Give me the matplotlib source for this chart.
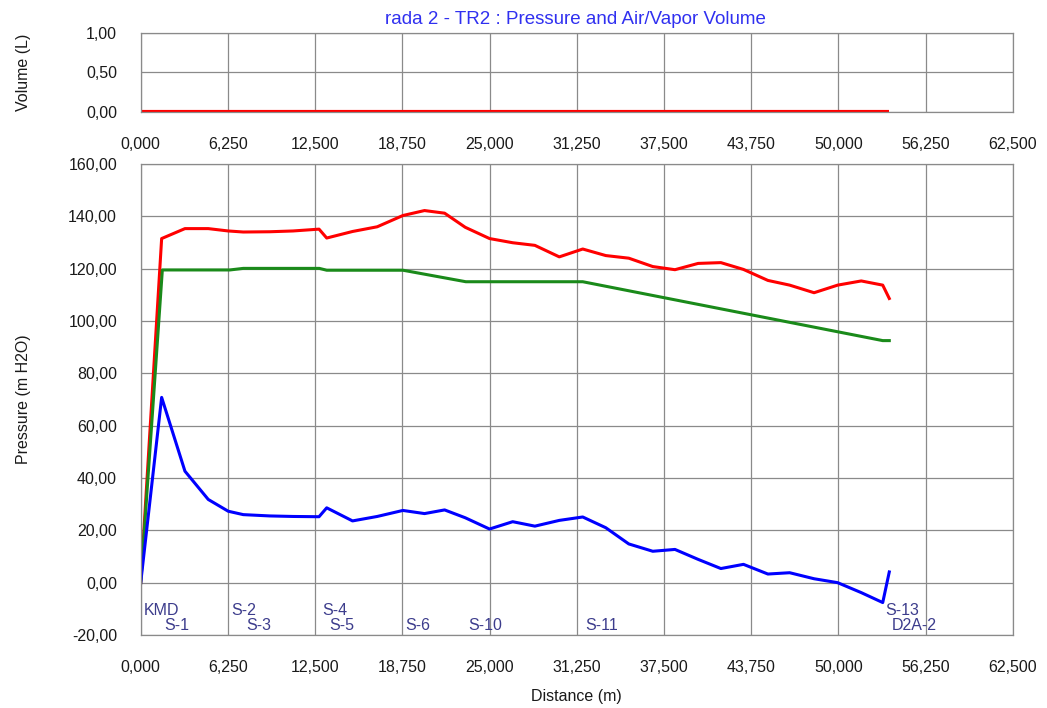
"""Pressure and air/vapor volume profile along pipeline rada 2 - TR2."""
import matplotlib
matplotlib.use("Agg")
import matplotlib.pyplot as plt
from matplotlib.ticker import FuncFormatter, MultipleLocator

plt.rcParams["font.family"] = ["Liberation Sans", "DejaVu Sans"]

# node distances (m) shared by max / min pressure lines
dist = [0, 1500, 3170, 4840, 6270, 7350, 9250, 10920, 12780, 13330, 15180,
        16950, 18790, 20340, 21780, 23260, 25000, 26660, 28250, 30000, 31680,
        33330, 34980, 36700, 38290, 39950, 41580, 43200, 44950, 46510, 48260,
        49950, 51640, 53180, 53650]
p_max = [0, 131.5, 135.3, 135.3, 134.4, 134.0, 134.1, 134.4, 135.1, 131.7, 134.2,
         136.0, 140.3, 142.2, 141.2, 135.8, 131.5, 129.9, 128.9, 124.5, 127.5,
         125.0, 124.0, 120.8, 119.6, 122.0, 122.3, 119.7, 115.5, 113.7, 110.8,
         113.7, 115.3, 113.7, 108.6]
p_min = [0, 70.8, 42.6, 31.8, 27.3, 26.0, 25.5, 25.3, 25.2, 28.6, 23.6,
         25.3, 27.6, 26.4, 27.8, 24.8, 20.5, 23.3, 21.6, 23.8, 25.1,
         21.0, 14.8, 12.0, 12.7, 8.9, 5.4, 7.0, 3.3, 3.8, 1.5,
         0.0, -3.8, -7.6, 4.1]

# steady-state line (only its break points)
ss_dist = [0, 1550, 6390, 7350, 12800, 13330, 18790, 23300, 31680, 53180, 53650]
ss_head = [0, 119.5, 119.5, 120.1, 120.1, 119.4, 119.4, 115.0, 115.0, 92.5, 92.5]

# air/vapor volume
vol_dist = [0, 53650]
vol = [0.0, 0.0]

# node labels: name, distance, row (0 = upper, 1 = lower)
node_names = ["KMD", "S-1", "S-2", "S-3", "S-4", "S-5", "S-6", "S-10", "S-11", "S-13", "D2A-2"]
node_dist = [0, 1500, 6270, 7350, 12780, 13330, 18790, 23260, 31680, 53180, 53650]
node_row = [0, 1, 0, 1, 0, 1, 1, 1, 1, 0, 1]

GRID = "#8a8a8a"
TICK_C = "#1a1a1a"
LABEL_C = "#3c3c8c"
FS = 11.5


def comma_fmt(decimals, scale=1.0):
    return FuncFormatter(lambda v, pos: f"{v / scale:.{decimals}f}".replace(".", ","))


def style_axes(ax):
    ax.set_xlim(0, 62500)
    ax.xaxis.set_major_locator(MultipleLocator(6250))
    ax.xaxis.set_major_formatter(comma_fmt(3, 1000.0))
    ax.yaxis.set_major_formatter(comma_fmt(2))
    ax.grid(True, color=GRID, linewidth=0.9)
    ax.set_axisbelow(True)
    for s in ax.spines.values():
        s.set_color(GRID)
        s.set_linewidth(0.9)
    ax.tick_params(length=0, labelsize=FS, colors=TICK_C)
    ax.tick_params(axis="x", pad=18)
    ax.tick_params(axis="y", pad=17)


fig = plt.figure(figsize=(10.47, 7.08), dpi=100)
ax_v = fig.add_axes([0.1344, 0.8422, 0.8329, 0.1112])
ax_p = fig.add_axes([0.1344, 0.1031, 0.8329, 0.6653])

# volume panel
ax_v.plot(vol_dist, vol, color="#ff0000", linewidth=3.0, solid_capstyle="butt")
ax_v.set_ylim(0, 1)
ax_v.yaxis.set_major_locator(MultipleLocator(0.5))
style_axes(ax_v)
ax_v.set_ylabel("Volume (L)", fontsize=FS, color=TICK_C)
ax_v.yaxis.set_label_coords(-0.126, 0.5)

# pressure panel
ax_p.plot(dist, p_max, color="#ff0000", linewidth=2.2)
ax_p.plot(ss_dist, ss_head, color="#1a8a1a", linewidth=2.2)
ax_p.plot(dist, p_min, color="#0000ff", linewidth=2.2)
ax_p.set_ylim(-20, 160)
ax_p.yaxis.set_major_locator(MultipleLocator(20))
style_axes(ax_p)
ax_p.set_ylabel("Pressure (m H2O)", fontsize=FS, color=TICK_C)
ax_p.yaxis.set_label_coords(-0.126, 0.5)
ax_p.set_xlabel("Distance (m)", fontsize=FS, color=TICK_C, labelpad=10)

row_y = [-10.6, -16.3]
for name, d, r in zip(node_names, node_dist, node_row):
    ax_p.annotate(name, (d, row_y[r]), xytext=(2, 0), textcoords="offset points",
                  ha="left", va="center", fontsize=FS, color=LABEL_C)

fig.text(575 / 1047, 1 - 20 / 708, "rada 2 - TR2 : Pressure and Air/Vapor Volume",
         ha="center", va="center", fontsize=13.5, color="#3030f0")

fig.savefig("out.png", dpi=100)
